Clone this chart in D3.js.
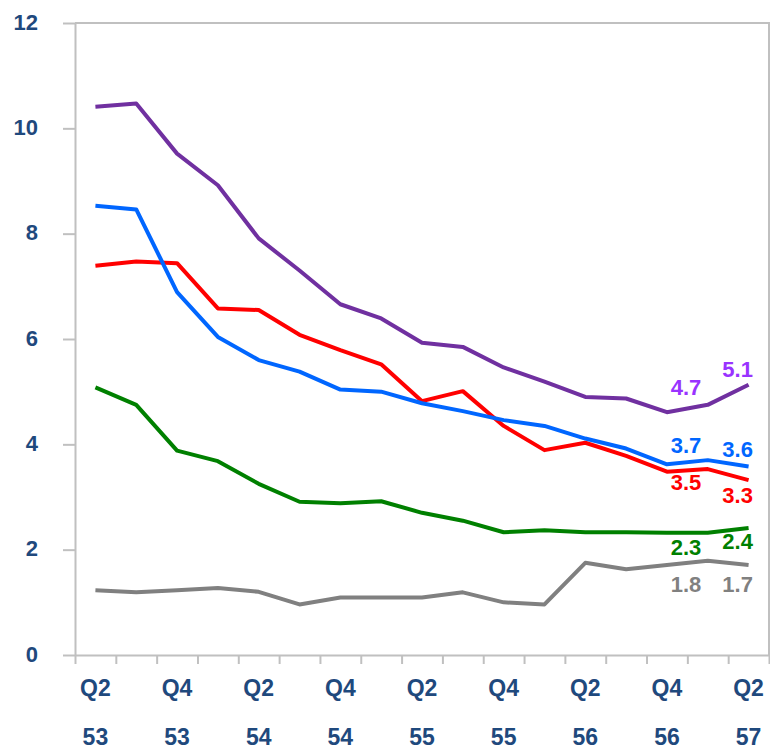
<!DOCTYPE html>
<html>
<head>
<meta charset="utf-8">
<script src="https://cdn.jsdelivr.net/npm/d3@7"></script>
<style>
  body { margin: 0; background: #fff; }
  svg text { font-family: "Liberation Sans", Arial, sans-serif; font-weight: bold; }
</style>
</head>
<body>
<svg width="770" height="750"></svg>
<script>
// quarters from Q2 53 to Q2 57
var quarters = ["Q2 53", "Q3 53", "Q4 53", "Q1 54", "Q2 54", "Q3 54", "Q4 54", "Q1 55", "Q2 55",
                "Q3 55", "Q4 55", "Q1 56", "Q2 56", "Q3 56", "Q4 56", "Q1 57", "Q2 57"];
var quarterLabels = ["Q2", "Q4", "Q2", "Q4", "Q2", "Q4", "Q2", "Q4", "Q2"];
var yearLabels = ["53", "53", "54", "54", "55", "55", "56", "56", "57"];
var yTicks = [0, 2, 4, 6, 8, 10, 12];

var purpleValues = [10.41, 10.47, 9.52, 8.92, 7.91, 7.30, 6.66, 6.39, 5.93, 5.85, 5.46, 5.19, 4.90, 4.87, 4.61, 4.75, 5.13];
var blueValues   = [8.53, 8.46, 6.89, 6.04, 5.60, 5.38, 5.04, 5.00, 4.78, 4.63, 4.46, 4.35, 4.11, 3.92, 3.62, 3.70, 3.58];
var redValues    = [7.39, 7.47, 7.44, 6.58, 6.55, 6.08, 5.79, 5.52, 4.82, 5.01, 4.35, 3.89, 4.03, 3.78, 3.48, 3.53, 3.32];
var greenValues  = [5.08, 4.75, 3.88, 3.68, 3.25, 2.91, 2.88, 2.92, 2.70, 2.55, 2.33, 2.37, 2.33, 2.33, 2.32, 2.32, 2.41];
var grayValues   = [1.23, 1.19, 1.23, 1.27, 1.20, 0.96, 1.09, 1.09, 1.09, 1.19, 1.00, 0.96, 1.75, 1.63, 1.71, 1.79, 1.71];

// value labels shown at Q4 56 and Q2 57
var purpleLabels = ["4.7", "5.1"];
var blueLabels   = ["3.7", "3.6"];
var redLabels    = ["3.5", "3.3"];
var greenLabels  = ["2.3", "2.4"];
var grayLabels   = ["1.8", "1.7"];
var labelIndex = [14, 16];

var series = [
  { values: grayValues,   labels: grayLabels,   color: "#808080", labelColor: "#808080", dy: [19, 19] },
  { values: greenValues,  labels: greenLabels,  color: "#008000", labelColor: "#008000", dy: [14, 13] },
  { values: redValues,    labels: redLabels,    color: "#ff0000", labelColor: "#ff0000", dy: [11, 15] },
  { values: blueValues,   labels: blueLabels,   color: "#0066ff", labelColor: "#0066ff", dy: [-19, -17] },
  { values: purpleValues, labels: purpleLabels, color: "#7030a0", labelColor: "#9933ff", dy: [-25, -16] }
];
var labelDx = [19, -11];

var axisColor = "#c0c0c0",
    textColor = "#1f497d";

var svg = d3.select("svg"),
    plot = { left: 75, right: 769, top: 23, bottom: 655 };

var x = d3.scaleBand()
    .domain(quarters)
    .range([plot.left, plot.right]);
var xEdge = d3.scaleLinear()
    .domain([0, quarters.length])
    .range([plot.left, plot.right]);
var y = d3.scaleLinear()
    .domain([0, 12])
    .range([plot.bottom, plot.top]);

function cx(i) {
    return x(quarters[i]) + x.bandwidth() / 2;
}

// frame (top and right)
svg.append("path")
    .attr("d", "M" + plot.left + "," + plot.top + "H" + plot.right + "V" + plot.bottom)
    .attr("fill", "none")
    .attr("stroke", axisColor)
    .attr("stroke-width", 2);

// y axis
var yAxis = svg.append("g")
    .attr("transform", "translate(" + plot.left + ",0)")
    .call(d3.axisLeft(y).tickValues(yTicks).tickSizeInner(12).tickSizeOuter(0).tickPadding(25));
yAxis.select(".domain").attr("stroke", axisColor).attr("stroke-width", 2);
yAxis.selectAll(".tick line").attr("stroke", axisColor).attr("stroke-width", 2);
yAxis.selectAll(".tick text")
    .attr("fill", textColor)
    .attr("font-size", 22)
    .attr("dy", "0.28em");

// x axis, ticks on quarter edges
var xAxis = svg.append("g")
    .attr("transform", "translate(0," + plot.bottom + ")")
    .call(d3.axisBottom(xEdge).tickValues(d3.range(quarters.length + 1)).tickFormat("").tickSizeInner(9).tickSizeOuter(0));
xAxis.select(".domain").attr("stroke", axisColor).attr("stroke-width", 2);
xAxis.selectAll(".tick line").attr("stroke", axisColor).attr("stroke-width", 2);

// two-row tick labels
svg.append("g").selectAll("text")
    .data(quarterLabels)
    .join("text")
    .attr("x", function(d, i) { return cx(i * 2); })
    .attr("y", 688)
    .attr("dy", "0.35em")
    .attr("text-anchor", "middle")
    .attr("fill", textColor)
    .attr("font-size", 23)
    .text(function(d) { return d; });

svg.append("g").selectAll("text")
    .data(yearLabels)
    .join("text")
    .attr("x", function(d, i) { return cx(i * 2); })
    .attr("y", 737)
    .attr("dy", "0.35em")
    .attr("text-anchor", "middle")
    .attr("fill", textColor)
    .attr("font-size", 23)
    .text(function(d) { return d; });

var line = d3.line()
    .x(function(d, i) { return cx(i); })
    .y(function(d) { return y(d); });

series.forEach(function(s) {
    svg.append("path")
        .datum(s.values)
        .attr("fill", "none")
        .attr("stroke", s.color)
        .attr("stroke-width", 4)
        .attr("stroke-linejoin", "round")
        .attr("d", line);

    svg.append("g").selectAll("text")
        .data(s.labels)
        .join("text")
        .attr("x", function(d, k) { return cx(labelIndex[k]) + labelDx[k]; })
        .attr("y", function(d, k) { return y(s.values[labelIndex[k]]) + s.dy[k]; })
        .attr("dy", "0.35em")
        .attr("text-anchor", "middle")
        .attr("fill", s.labelColor)
        .attr("font-size", 22)
        .text(function(d) { return d; });
});
</script>
</body>
</html>
